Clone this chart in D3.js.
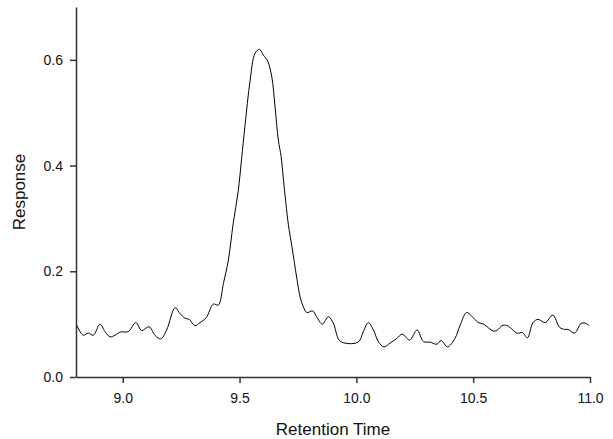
<!DOCTYPE html>
<html>
<head>
<meta charset="utf-8">
<script src="https://cdn.jsdelivr.net/npm/d3@7"></script>
<style>
  body { margin: 0; background: #fff; }
  svg text { font-family: "Liberation Sans", Arial, sans-serif; fill: #111; }
</style>
</head>
<body>
<svg id="svg" width="613" height="439"></svg>
<script>
// retention time (min)
const time = [8.803, 8.831, 8.853, 8.874, 8.903, 8.924, 8.946, 8.967, 8.988, 9.024,
  9.056, 9.081, 9.113, 9.138, 9.163, 9.188, 9.224, 9.245, 9.267, 9.285,
  9.309, 9.331, 9.357, 9.388, 9.409, 9.431, 9.452, 9.473, 9.495, 9.509,
  9.523, 9.545, 9.566, 9.585, 9.602, 9.620, 9.638, 9.652, 9.666, 9.678,
  9.688, 9.709, 9.724, 9.745, 9.759, 9.772, 9.788, 9.813, 9.830, 9.854,
  9.880, 9.901, 9.926, 9.952, 10.008, 10.030, 10.051, 10.073, 10.094, 10.118,
  10.144, 10.173, 10.196, 10.228, 10.260, 10.287, 10.315, 10.344, 10.363, 10.390,
  10.422, 10.444, 10.472, 10.494, 10.522, 10.544, 10.586, 10.601, 10.628, 10.651,
  10.687, 10.711, 10.732, 10.756, 10.778, 10.808, 10.841, 10.870, 10.892, 10.907,
  10.934, 10.961, 10.979, 10.997]
// detector response at each time
const response = [0.098, 0.079, 0.083, 0.079, 0.100, 0.086, 0.076, 0.079, 0.085, 0.086,
  0.103, 0.088, 0.095, 0.079, 0.072, 0.089, 0.131, 0.120, 0.111, 0.109,
  0.097, 0.103, 0.112, 0.138, 0.136, 0.177, 0.221, 0.291, 0.354, 0.414,
  0.474, 0.560, 0.612, 0.620, 0.609, 0.598, 0.568, 0.511, 0.448, 0.417,
  0.373, 0.288, 0.247, 0.187, 0.152, 0.134, 0.122, 0.125, 0.114, 0.100,
  0.114, 0.102, 0.070, 0.064, 0.066, 0.086, 0.103, 0.089, 0.067, 0.057,
  0.064, 0.073, 0.081, 0.070, 0.089, 0.067, 0.066, 0.062, 0.069, 0.057,
  0.073, 0.098, 0.122, 0.115, 0.103, 0.100, 0.087, 0.088, 0.098, 0.096,
  0.083, 0.084, 0.074, 0.103, 0.109, 0.103, 0.117, 0.094, 0.090, 0.090,
  0.083, 0.101, 0.102, 0.097]

const xTicks = [9.0, 9.5, 10.0, 10.5, 11.0]
const yTicks = [0.0, 0.2, 0.4, 0.6]

const svg = d3.select("#svg")
const mLeft = 76, mRight = 590, mTop = 7, mBottom = 377

const x = d3.scaleLinear().domain([8.8, 11.0]).range([mLeft, mRight])
const y = d3.scaleLinear().domain([0, 0.7]).range([mBottom, mTop])

// x axis
svg.append("g").attr("transform", "translate(0," + mBottom + ")")
  .call(d3.axisBottom(x).tickValues(xTicks).tickFormat(d3.format(".1f"))
    .tickSize(6).tickSizeOuter(0).tickPadding(10))
// y axis
svg.append("g").attr("transform", "translate(" + mLeft + ",0)")
  .call(d3.axisLeft(y).tickValues(yTicks).tickFormat(d3.format(".1f"))
    .tickSize(6).tickSizeOuter(0).tickPadding(7))

svg.selectAll(".domain, .tick line").attr("stroke", "#333").attr("stroke-width", 1.5)
svg.selectAll(".tick text").style("font-size", "14px").attr("fill", "#111")

// the trace
const data = time.map((t, i) => ({ t: t, v: response[i] }))
const line = d3.line()
  .x(d => x(d.t))
  .y(d => y(d.v))
  .curve(d3.curveCatmullRom)

svg.append("path")
  .datum(data)
  .attr("fill", "none")
  .attr("stroke", "#000")
  .attr("stroke-width", 1)
  .attr("d", line)

// titles
svg.append("text")
  .attr("x", (mLeft + mRight) / 2).attr("y", 435)
  .attr("text-anchor", "middle")
  .style("font-size", "17px")
  .text("Retention Time")

svg.append("text")
  .attr("transform", "translate(25," + (mTop + mBottom) / 2 + ") rotate(-90)")
  .attr("text-anchor", "middle")
  .style("font-size", "17px")
  .text("Response")
</script>
</body>
</html>
